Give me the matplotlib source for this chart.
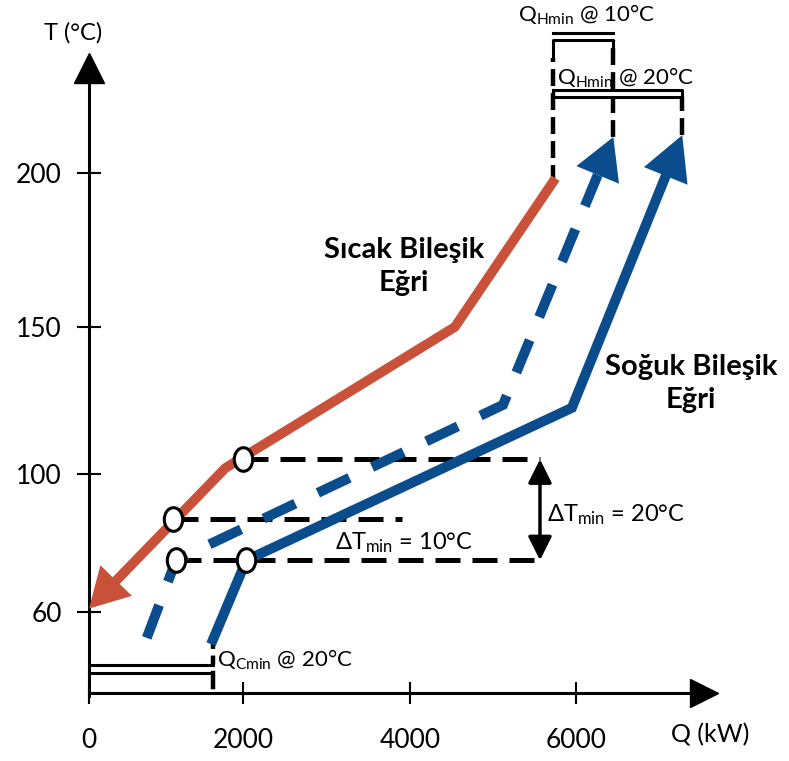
import matplotlib
matplotlib.use('Agg')
import matplotlib.pyplot as plt
import numpy as np
from matplotlib.markers import MarkerStyle
from matplotlib.transforms import Affine2D


##########################  DATA  ##########################

# hot composite curve, from its top end down to the arrow tip
hot_q = [5720, 4540, 1770, 0]
hot_t = [197, 150, 102, 61]

# cold composite curve at dTmin = 20 C (solid) and at dTmin = 10 C (dashed)
cold_q = [1610, 2040, 5950, 7280]
cold_t = [52, 75, 122.5, 212.3]
cold10_q = [750, 1130, 5120, 6450]
cold10_t = [52.5, 75, 123.5, 211.7]

# open circles on the curves
pinch_q = [2000, 1090, 1130, 2040]
pinch_t = [105, 87, 75, 75]

# dashed guide lines: (T, Q start, Q end)
guide_t = [105, 87, 75]
guide_q0 = [2000, 1090, 1130]
guide_q1 = [5566, 3910, 5566]

x_ticks = [0, 2000, 4000, 6000]
x_labels = ['0', '2000', '4000', '6000']
y_ticks = [60, 100, 150, 200]
y_labels = ['60', '100', '150', '200']

HOT = '#C9513A'
BLUE = '#0B4D8C'

plt.rcParams['font.family'] = ['Lato', 'DejaVu Sans']
plt.rcParams['mathtext.fontset'] = 'custom'
plt.rcParams['mathtext.rm'] = 'Lato'
plt.rcParams['mathtext.it'] = 'Lato:italic'
plt.rcParams['mathtext.bf'] = 'Lato:bold'


# the sketch is not drawn to scale, so both axes are piecewise linear
q_anchor = [-2000, 0, 2000, 4000, 6000, 10000]
q_pos = [-65, 89, 243, 410, 576, 908]
t_anchor = [0, 60, 100, 150, 200, 300]
t_pos = [-58, 149, 287, 434, 588, 896]


def q_fwd(v):
    return np.interp(v, q_anchor, q_pos)


def q_inv(v):
    return np.interp(v, q_pos, q_anchor)


def t_fwd(v):
    return np.interp(v, t_anchor, t_pos)


def t_inv(v):
    return np.interp(v, t_pos, t_anchor)


fig = plt.figure(figsize=(7.89, 7.61), dpi=100)
ax = fig.add_axes([0, 0, 1, 1])
ax.set_xscale('function', functions=(q_fwd, q_inv))
ax.set_yscale('function', functions=(t_fwd, t_inv))
ax.set_xlim(q_inv(0), q_inv(789))
ax.set_ylim(t_inv(0), t_inv(761))
ax.patch.set_alpha(0)

x_axis_t = float(t_inv(68))
ax.spines['top'].set_visible(False)
ax.spines['right'].set_visible(False)
ax.spines['left'].set_position(('data', 0))
ax.spines['bottom'].set_position(('data', x_axis_t))
ax.spines['left'].set_bounds(t_inv(65), t_inv(679))
ax.spines['bottom'].set_bounds(0, q_inv(690))
for s in ('left', 'bottom'):
    ax.spines[s].set_linewidth(2.2)

# axis arrow heads
ax.plot(0, t_inv(693.5), marker='^', ms=21, color='black', clip_on=False)
ax.plot(q_inv(704), x_axis_t, marker='>', ms=20, color='black', clip_on=False)

ax.set_xticks(x_ticks, x_labels)
ax.set_yticks(y_ticks, y_labels)
ax.minorticks_off()
ax.tick_params(axis='y', direction='inout', length=17, width=1.5, pad=11,
               labelsize=19)
ax.tick_params(axis='x', direction='inout', length=16, width=1.5, pad=17,
               labelsize=19)

ax.text(q_inv(73), t_inv(728), 'T (°C)', ha='center', va='center', fontsize=17)
ax.text(q_inv(710), t_inv(26), 'Q (kW)', ha='center', va='center', fontsize=18)


def arrow_line(qs, ts, color, head_len=42, head_w=46, **kw):
    pts = ax.transData.transform(np.column_stack([qs, ts]))
    tip = pts[-1]
    d = tip - pts[-2]
    d = d / np.hypot(*d)
    base = tip - d * head_len
    n = np.array([-d[1], d[0]])
    line = ax.transData.inverted().transform(np.vstack([pts[:-1], base]))
    ax.plot(line[:, 0], line[:, 1], color=color, zorder=3, **kw)
    head = np.array([tip, base + n * head_w / 2, base - n * head_w / 2])
    head = ax.transData.inverted().transform(head)
    ax.add_patch(plt.Polygon(head, closed=True, color=color, lw=0, zorder=3))


# dashed guide lines between the curves
for t, q0, q1 in zip(guide_t, guide_q0, guide_q1):
    ax.plot([q0, q1], [t, t], color='black', lw=3.6, ls=(0, (5, 2.4)), zorder=2)

arrow_line(hot_q, hot_t, HOT, head_len=39, head_w=44, lw=7,
           solid_joinstyle='miter')
arrow_line(cold_q, cold_t, BLUE, head_len=44, head_w=47, lw=7.2,
           solid_joinstyle='miter')
arrow_line(cold10_q, cold10_t, BLUE, head_len=41, head_w=46, lw=7.2,
           ls=(0, (3.5, 2.5)), dash_joinstyle='miter')

ell = MarkerStyle('o', transform=Affine2D().scale(0.78, 1.0))
ax.plot(pinch_q, pinch_t, ls='none', marker=ell, ms=17, mfc='white',
        mec='black', mew=2.2, zorder=5)

# dTmin = 20 arrow
ax.annotate('', xy=(guide_q1[0], guide_t[0]), xytext=(guide_q1[2], guide_t[2]),
            arrowprops=dict(arrowstyle='<|-|>,head_length=0.72,head_width=0.36',
                            lw=2.5, color='black', shrinkA=0, shrinkB=0,
                            mutation_scale=20))

ax.text(5651, 88.1, r'$\Delta\mathrm{T}_{\mathrm{min}}$ = 20°C', ha='left',
        va='center', fontsize=17)
ax.text(3102, 80, r'$\Delta\mathrm{T}_{\mathrm{min}}$ = 10°C', ha='left',
        va='center', fontsize=17)

ax.text(3930, 169.6, 'Sıcak Bileşik\nEğri', ha='center', va='center',
        fontsize=21, fontweight='bold', linespacing=1.35)
ax.text(7386, 130.8, 'Soğuk Bileşik\nEğri', ha='center', va='center',
        fontsize=21, fontweight='bold', linespacing=1.35)

# Q_Hmin brackets at the top
q_left, q_mid, q_right = hot_q[0], cold10_q[-1], cold_q[-1]
vdash = dict(color='black', lw=3.2, ls=(0, (3.8, 1.6)), zorder=2)
ax.plot([q_left, q_left], [hot_t[0], 237.3], **vdash)
ax.plot([q_mid, q_mid], [cold10_t[-1], 243.2], **vdash)
ax.plot([q_right, q_right], [cold_t[-1], 224.7], **vdash)

ax.plot([q_left, q_mid], [245.5, 245.5], color='black', lw=2.2)
ax.plot([q_left, q_left, q_mid, q_mid], [237.3, 243.2, 243.2, 237.3],
        color='black', lw=2.2)
ax.plot([q_left, q_right, q_right, q_left, q_left],
        [226.9, 226.9, 224.7, 224.7, 226.9], color='black', lw=2.2)

ax.text(5301, 251.3, r'$\mathrm{Q}_{\mathrm{Hmin}}$ @ 10°C', ha='left',
        va='center', fontsize=16)
ax.text(5771, 230.8, r'$\mathrm{Q}_{\mathrm{Hmin}}$ @ 20°C', ha='left',
        va='center', fontsize=16)

# Q_Cmin bracket at the bottom
q_c = cold_q[0]
ax.plot([q_c, q_c], [cold_t[0], 44.6], color='black', lw=3.2,
        ls=(0, (2, 1.5)))
ax.plot([0, q_c], [44.6, 44.6], color='black', lw=2.2)
ax.plot([0, q_c, q_c], [42.3, 42.3, 38.3], color='black', lw=2.2)
ax.plot([q_c, q_c], [42.3, 38.3], color='black', lw=3.2)
ax.text(1662, 46.1, r'$\mathrm{Q}_{\mathrm{Cmin}}$ @ 20°C', ha='left',
        va='center', fontsize=16)

fig.savefig('out.png', dpi=100)
